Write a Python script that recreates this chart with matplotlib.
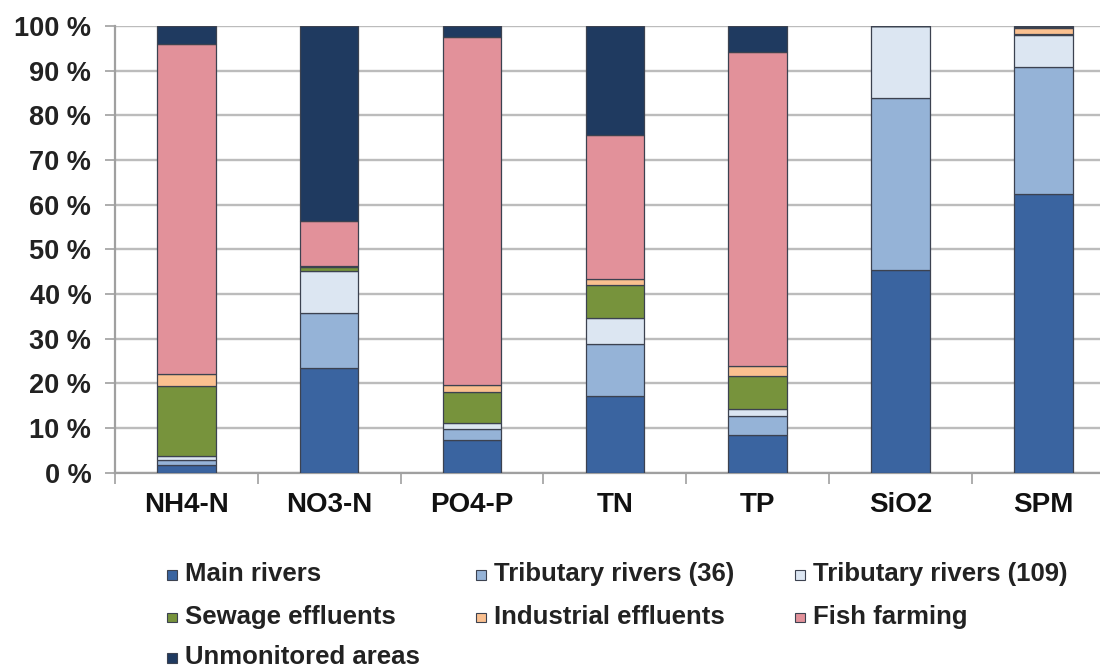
import numpy as np
import matplotlib
matplotlib.use("Agg")
import matplotlib.pyplot as plt
from matplotlib.patches import Rectangle

plt.rcParams["font.family"] = ["Liberation Sans", "DejaVu Sans"]
plt.rcParams["font.weight"] = "bold"

# share (%) of each source in total load, per parameter
params = ["NH4-N", "NO3-N", "PO4-P", "TN", "TP", "SiO2", "SPM"]
main_rivers = [1.7, 23.4, 7.3, 17.1, 8.5, 45.4, 62.5]
trib_36 = [1.15, 12.4, 2.4, 11.7, 4.1, 38.4, 28.4]
trib_109 = [0.9, 9.3, 1.4, 5.9, 1.6, 16.2, 7.1]
sewage = [15.55, 1.0, 6.9, 7.4, 7.4, 0.0, 0.3]
industrial = [2.8, 0.2, 1.7, 1.2, 2.2, 0.0, 1.2]
fish_farming = [73.9, 10.1, 77.8, 32.3, 70.4, 0.0, 0.3]
unmonitored = [4.0, 43.6, 2.5, 24.4, 5.8, 0.0, 0.2]

series = [
    ("Main rivers", main_rivers, "#3a64a0"),
    ("Tributary rivers (36)", trib_36, "#95b3d7"),
    ("Tributary rivers (109)", trib_109, "#dce6f2"),
    ("Sewage effluents", sewage, "#77933c"),
    ("Industrial effluents", industrial, "#fac090"),
    ("Fish farming", fish_farming, "#e2919a"),
    ("Unmonitored areas", unmonitored, "#1f3a60"),
]

fig = plt.figure(figsize=(11, 6.7), dpi=100)
ax = fig.add_axes([0.1045, 0.2945, 0.909, 0.6667])

x = np.arange(len(params))
bottom = np.zeros(len(params))
for name, vals, col in series:
    v = np.array(vals, dtype=float)
    ax.bar(x, v, width=0.41, bottom=bottom, color=col, edgecolor="#3c4250",
           linewidth=0.9, zorder=3)
    bottom += v

ax.set_xlim(-0.5, len(params) - 0.5)
ax.set_ylim(0, 100)
ax.set_yticks(range(0, 101, 10))
ax.set_yticklabels([f"{v} %" for v in range(0, 101, 10)], fontsize=19.5,
                   fontweight="bold", color="#222222")
ax.set_xticks(x)
ax.set_xticklabels(params, fontsize=20, fontweight="bold", color="#111111")
ax.set_xticks(np.arange(-0.5, len(params), 1.0), minor=True)
ax.tick_params(axis="x", which="major", length=0, pad=14)
ax.tick_params(axis="x", which="minor", length=8, color="#a0a0a0", width=1.2)
ax.tick_params(axis="y", length=7, color="#a0a0a0", width=1.2, pad=10)

ax.grid(axis="y", color="#bcbcbc", linewidth=1.7, zorder=0)
ax.set_axisbelow(True)
for s in ("top", "right"):
    ax.spines[s].set_visible(False)
for s in ("left", "bottom"):
    ax.spines[s].set_color("#a0a0a0")
    ax.spines[s].set_linewidth(1.6)

# legend laid out row by row, three columns, like the original
col_x = [0.152, 0.433, 0.723]
row_y = [0.143, 0.079, 0.019]
for i, (name, vals, col) in enumerate(series):
    r, c = divmod(i, 3)
    fig.add_artist(Rectangle((col_x[c], row_y[r] - 0.008), 0.0085, 0.014,
                             transform=fig.transFigure, facecolor=col,
                             edgecolor="#3c4250", linewidth=0.8))
    fig.text(col_x[c] + 0.0165, row_y[r], name, fontsize=18.5, fontweight="bold",
             color="#222222", va="center", ha="left")

fig.savefig("out.png", dpi=100)
